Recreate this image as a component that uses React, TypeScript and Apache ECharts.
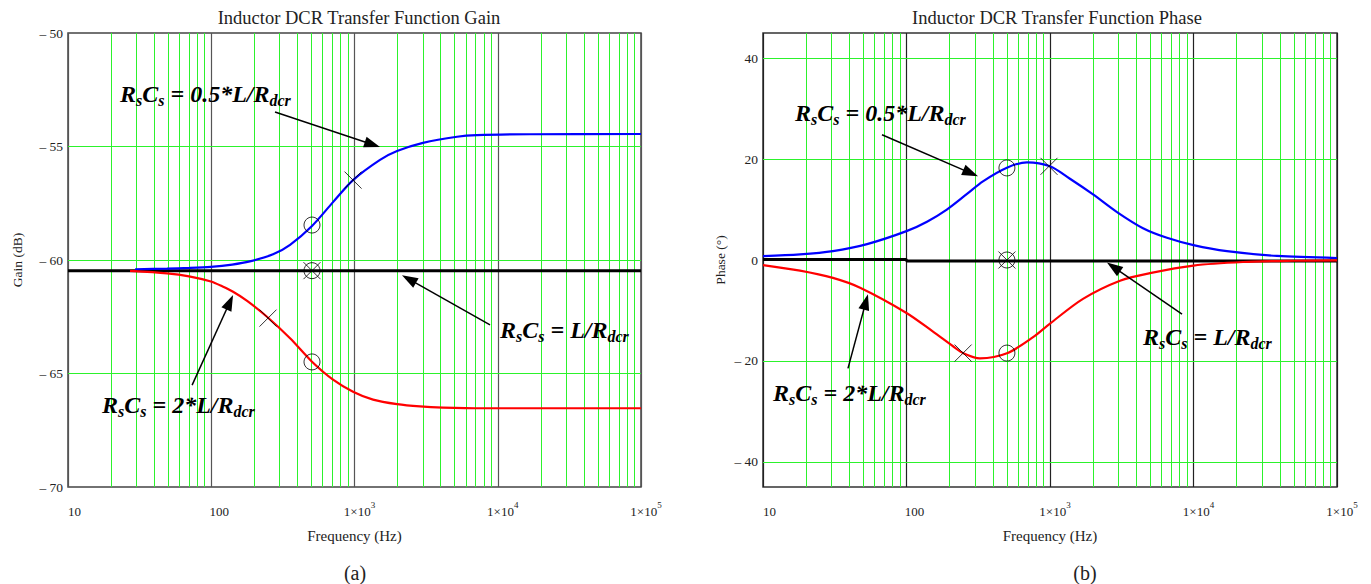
import React, { useEffect, useRef } from "react";
import * as echarts from "echarts";

const FONT = "'Liberation Serif', 'Times New Roman', serif";
const GREEN = "#2cf22c";

// ---- shared frequency axis ----
const FREQ_MIN = 10;
const FREQ_MAX = 100000;
const MINOR_FREQS = [
  20, 30, 40, 50, 60, 70, 80, 90,
  200, 300, 400, 500, 600, 700, 800, 900,
  2000, 3000, 4000, 5000, 6000, 7000, 8000, 9000,
  20000, 30000, 40000, 50000, 60000, 70000, 80000, 90000,
];

// ---- Gain panel (a) ----
const GAIN_MIN = -70;
const GAIN_MAX = -50;
const GAIN_STEP = 5;
const GAIN_GRID = [-55, -60, -65];

const gainRefFreq = [10, 100000];
const gainRefDb = [-60.47, -60.47];

const gainBlueFreq = [29.4, 49.1, 70, 99.5, 140, 186, 270, 355, 505, 708, 977, 1507, 1982, 3006, 5200, 7163, 16790, 100000];
const gainBlueDb = [-60.41, -60.38, -60.35, -60.3, -60.2, -60.06, -59.75, -59.33, -58.5, -57.45, -56.48, -55.59, -55.2, -54.84, -54.57, -54.5, -54.46, -54.45];

const gainRedFreq = [27.1, 49.1, 70, 99.5, 120, 142, 178, 245, 355, 505, 708, 977, 1347, 1982, 2865, 4150, 8000, 100000];
const gainRedDb = [-60.48, -60.59, -60.72, -60.95, -61.17, -61.4, -61.8, -62.5, -63.45, -64.48, -65.27, -65.8, -66.15, -66.35, -66.45, -66.5, -66.53, -66.53];

const gainCircleFreq = [505, 505, 505];
const gainCircleDb = [-58.46, -64.49, -60.47];
const gainCrossFreq = [977, 249, 505];
const gainCrossDb = [-56.48, -62.56, -60.47];

// arrows: [fromFreq, fromVal, toFreq, toVal]
const gainArrows = [
  [278.6, -53.48, 1334, -54.91],
  [8831, -62.86, 2399, -60.84],
  [73.5, -65.51, 134.6, -61.86],
];

// ---- Phase panel (b) ----
const PHASE_MIN = -45;
const PHASE_MAX = 45;
const PHASE_STEP = 5;
const PHASE_LABEL_EVERY = 20;
const PHASE_GRID = [-40, -20, 0, 20, 40];

const phaseRefFreq = [10, 99, 101, 100000];
const phaseRefDeg = [0.1, 0.1, -0.2, -0.2];

const phaseBlueFreq = [10, 18.1, 30.7, 53.1, 100, 139, 191, 264, 341, 501, 692, 1000, 1377, 1995, 2930, 4446, 6531, 10000, 17100, 38200, 100000];
const phaseBlueDeg = [0.75, 1.1, 1.75, 3.15, 5.72, 7.6, 10.0, 13.1, 15.6, 18.3, 19.36, 18.57, 16.1, 13.0, 9.5, 6.3, 4.4, 2.95, 1.75, 0.8, 0.39];

const phaseRedFreq = [10, 18.1, 30.7, 47.5, 100, 153, 211, 248, 325, 501, 762, 1000, 1698, 3076, 4977, 10000, 22130, 50000, 100000];
const phaseRedDeg = [-1.0, -2.1, -3.55, -5.5, -10.5, -14.2, -17.1, -18.45, -19.5, -18.5, -15.3, -12.6, -7.7, -4.1, -2.6, -1.1, -0.4, -0.15, -0.07];

const phaseCircleFreq = [501, 501, 501];
const phaseCircleDeg = [18.25, -18.45, 0];
const phaseCrossFreq = [984, 248, 501];
const phaseCrossDeg = [18.57, -18.45, 0];

const phaseArrows = [
  [67.5, 24.84, 280, 17.23],
  [8318, -10.74, 2773, -1.41],
  [39.1, -21.48, 52.1, -8.31],
];

// ---- texts ----
const TITLE_GAIN = "Inductor DCR Transfer Function Gain";
const TITLE_PHASE = "Inductor DCR Transfer Function Phase";
const X_NAME = "Frequency (Hz)";
const Y_NAME_GAIN = "Gain (dB)";
const Y_NAME_PHASE = "Phase (°)";
const ANNO_HALF = "{m|R}{s|s}{m|C}{s|s}{m| = 0.5*L/R}{s|dcr}";
const ANNO_ONE = "{m|R}{s|s}{m|C}{s|s}{m| = L/R}{s|dcr}";
const ANNO_TWO = "{m|R}{s|s}{m|C}{s|s}{m| = 2*L/R}{s|dcr}";

const zip = (xs: number[], ys: number[]) => xs.map((x, i) => [x, ys[i]]);

const yLabel = (v: number) => (v < 0 ? "\u2013 " + Math.abs(v) : String(v));

const xLabel = (v: number) => {
  const e = Math.round(Math.log10(v));
  if (e === 1) return "{d1|10}";
  if (e === 2) return "{d2|100}";
  return "{m|1\u00d710}{sup|" + e + "}";
};

const xRich = {
  d1: { fontFamily: FONT, fontSize: 13, lineHeight: 22, color: "#222", padding: [0, 0, 0, 13] },
  d2: { fontFamily: FONT, fontSize: 13, lineHeight: 22, color: "#222", padding: [0, 0, 0, 16] },
  m: { fontFamily: FONT, fontSize: 13, lineHeight: 22, color: "#222", padding: [0, 0, 0, 10] },
  sup: { fontFamily: FONT, fontSize: 9, lineHeight: 9, color: "#222", verticalAlign: "top" },
};

const annoRich = {
  m: { fontFamily: FONT, fontSize: 24, fontWeight: "bold", fontStyle: "italic", lineHeight: 28, fill: "#000" },
  s: { fontFamily: FONT, fontSize: 16, fontWeight: "bold", fontStyle: "italic", lineHeight: 16, verticalAlign: "bottom", fill: "#000" },
};

function xAxisFor(gridIndex: number, decadeColor: string) {
  return {
    type: "log",
    logBase: 10,
    gridIndex,
    min: FREQ_MIN,
    max: FREQ_MAX,
    name: X_NAME,
    nameLocation: "middle",
    nameGap: 41,
    nameTextStyle: { fontFamily: FONT, fontSize: 15, color: "#222" },
    axisLine: { show: false },
    axisTick: { show: false },
    axisLabel: { margin: 13, color: "#222", formatter: xLabel, rich: xRich, hideOverlap: false },
    splitLine: { show: true, lineStyle: { color: decadeColor, width: 1.2 } },
  };
}

function gridLineSeries(idx: number, hValues: number[], yMin: number) {
  return {
    type: "line",
    xAxisIndex: idx,
    yAxisIndex: idx,
    data: [[FREQ_MIN, yMin]],
    symbol: "none",
    lineStyle: { opacity: 0 },
    silent: true,
    z: 1,
    markLine: {
      silent: true,
      z: 1,
      symbol: "none",
      animation: false,
      label: { show: false },
      lineStyle: { color: GREEN, width: 1, type: "solid" },
      emphasis: { disabled: true },
      data: [...MINOR_FREQS.map((f) => ({ xAxis: f })), ...hValues.map((v) => ({ yAxis: v }))],
    },
  };
}

function arrowData(arrows: number[][]) {
  return arrows.map((a) => [
    { coord: [a[0], a[1]], symbol: "none" },
    { coord: [a[2], a[3]], symbol: "triangle", symbolSize: [11, 16] },
  ]);
}

function curve(idx: number, data: number[][], color: string, width: number, arrows?: number[][]) {
  const s: any = {
    type: "line",
    xAxisIndex: idx,
    yAxisIndex: idx,
    data,
    symbol: "none",
    smooth: 0.3,
    silent: true,
    lineStyle: { color, width },
    itemStyle: { color },
    z: 2,
  };
  if (arrows) {
    s.smooth = false;
    s.markLine = {
      silent: true,
      z: 5,
      animation: false,
      label: { show: false },
      lineStyle: { color: "#000", width: 1.5, type: "solid" },
      itemStyle: { color: "#000" },
      emphasis: { disabled: true },
      data: arrowData(arrows),
    };
  }
  return s;
}

function markerSeries(idx: number, data: number[][], symbol: string, size: number) {
  return {
    type: "scatter",
    xAxisIndex: idx,
    yAxisIndex: idx,
    data,
    symbol,
    symbolSize: size,
    silent: true,
    itemStyle: { color: "rgba(0,0,0,0)", borderColor: "#000", borderWidth: 1 },
    z: 4,
  };
}

const CROSS = "path://M0,0L10,10M10,0L0,10";

function buildOption() {
  return {
    animation: false,
    backgroundColor: "#fff",
    title: [
      {
        text: TITLE_GAIN,
        left: 359,
        top: 8,
        padding: 0,
        textAlign: "center",
        textStyle: { fontFamily: FONT, fontSize: 18.5, fontWeight: "normal", color: "#222" },
      },
      {
        text: TITLE_PHASE,
        left: 1057,
        top: 8,
        padding: 0,
        textAlign: "center",
        textStyle: { fontFamily: FONT, fontSize: 18.5, fontWeight: "normal", color: "#222" },
      },
    ],
    grid: [
      { left: 68, right: 730, top: 33, bottom: 97, show: true, borderColor: "#444", borderWidth: 1.5, backgroundColor: "transparent", outerBoundsMode: "none" },
      { left: 763, right: 34, top: 33, bottom: 97, show: true, borderColor: "#333", borderWidth: 1.5, backgroundColor: "transparent", outerBoundsMode: "none" },
    ],
    xAxis: [xAxisFor(0, "#555"), xAxisFor(1, "#222")],
    yAxis: [
      {
        type: "value",
        gridIndex: 0,
        min: GAIN_MIN,
        max: GAIN_MAX,
        interval: GAIN_STEP,
        name: Y_NAME_GAIN,
        nameLocation: "middle",
        nameGap: 44,
        nameTextStyle: { fontFamily: FONT, fontSize: 13.5, color: "#222" },
        axisLine: { show: false },
        axisTick: { show: false },
        splitLine: { show: false },
        axisLabel: { formatter: yLabel, fontFamily: FONT, fontSize: 13.5, color: "#222", margin: 5, padding: [8, 0, 0, 0] },
      },
      {
        type: "value",
        gridIndex: 1,
        min: PHASE_MIN,
        max: PHASE_MAX,
        interval: PHASE_STEP,
        name: Y_NAME_PHASE,
        nameLocation: "middle",
        nameGap: 36,
        nameTextStyle: { fontFamily: FONT, fontSize: 13.5, color: "#222" },
        axisLine: { show: false },
        axisTick: { show: false },
        splitLine: { show: false },
        axisLabel: {
          formatter: (v: number) => (Math.abs(v % PHASE_LABEL_EVERY) === 0 ? yLabel(v) : ""),
          fontFamily: FONT,
          fontSize: 13.5,
          color: "#222",
          margin: 5,
          padding: [6, 0, 0, 0],
        },
      },
    ],
    series: [
      gridLineSeries(0, GAIN_GRID, GAIN_MIN),
      curve(0, zip(gainRefFreq, gainRefDb), "#000", 3, gainArrows),
      curve(0, zip(gainBlueFreq, gainBlueDb), "#0000ff", 2.2),
      curve(0, zip(gainRedFreq, gainRedDb), "#ff0000", 2.2),
      markerSeries(0, zip(gainCircleFreq, gainCircleDb), "circle", 16),
      markerSeries(0, zip(gainCrossFreq, gainCrossDb), CROSS, 17),

      gridLineSeries(1, PHASE_GRID, PHASE_MIN),
      curve(1, zip(phaseRefFreq, phaseRefDeg), "#000", 3, phaseArrows),
      curve(1, zip(phaseBlueFreq, phaseBlueDeg), "#0000ff", 2.2),
      curve(1, zip(phaseRedFreq, phaseRedDeg), "#ff0000", 2.2),
      markerSeries(1, zip(phaseCircleFreq, phaseCircleDeg), "circle", 16),
      markerSeries(1, zip(phaseCrossFreq, phaseCrossDeg), CROSS, 17),
    ],
    graphic: [
      { type: "text", x: 120, y: 94, z: 10, style: { text: ANNO_HALF, rich: annoRich, align: "left", verticalAlign: "middle" } },
      { type: "text", x: 500, y: 330, z: 10, style: { text: ANNO_ONE, rich: annoRich, align: "left", verticalAlign: "middle" } },
      { type: "text", x: 102, y: 405, z: 10, style: { text: ANNO_TWO, rich: annoRich, align: "left", verticalAlign: "middle" } },
      { type: "text", x: 795, y: 113, z: 10, style: { text: ANNO_HALF, rich: annoRich, align: "left", verticalAlign: "middle" } },
      { type: "text", x: 1143, y: 337, z: 10, style: { text: ANNO_ONE, rich: annoRich, align: "left", verticalAlign: "middle" } },
      { type: "text", x: 773, y: 393, z: 10, style: { text: ANNO_TWO, rich: annoRich, align: "left", verticalAlign: "middle" } },
      { type: "text", x: 355, y: 573, style: { text: "(a)", fontFamily: FONT, fontSize: 20, fill: "#222", align: "center", verticalAlign: "middle" } },
      { type: "text", x: 1085, y: 573, style: { text: "(b)", fontFamily: FONT, fontSize: 20, fill: "#222", align: "center", verticalAlign: "middle" } },
    ],
  };
}

export default function App() {
  const ref = useRef<HTMLDivElement>(null);
  useEffect(() => {
    if (!ref.current) return;
    const chart = echarts.init(ref.current, null, { renderer: "svg" });
    chart.setOption(buildOption() as any);
    return () => chart.dispose();
  }, []);
  return (
    <div
      ref={ref}
      style={{ position: "absolute", left: 0, top: 0, width: 1371, height: 584, background: "#fff" }}
    />
  );
}
